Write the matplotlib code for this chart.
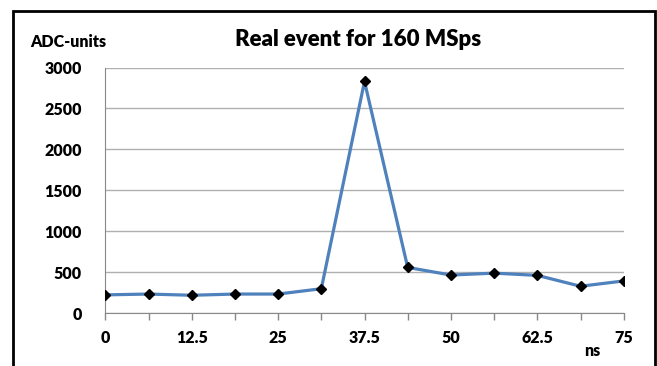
import matplotlib
matplotlib.use("Agg")
from matplotlib import pyplot as plt
from matplotlib.patches import Rectangle

plt.rcParams['font.family'] = ['Lato', 'DejaVu Sans']

# sample times (ns) and ADC values
times = [0, 6.25, 12.5, 18.75, 25, 31.25, 37.5, 43.75, 50, 56.25, 62.5, 68.75, 75]
adc = [225, 235, 220, 235, 235, 300, 2830, 560, 467, 490, 463, 330, 395]
xtick_vals = [0, 12.5, 25, 37.5, 50, 62.5, 75]
xtick_labels = ['0', '12.5', '25', '37.5', '50', '62.5', '75']
ytick_vals = [0, 500, 1000, 1500, 2000, 2500, 3000]

W, H = 657, 366
WT = 'heavy'
fig = plt.figure(figsize=(W / 100, H / 100), dpi=100)
ax = fig.add_axes([105.3 / W, 1 - 313.3 / H, (623.7 - 105.3) / W, (313.3 - 67.5) / H])

ax.plot(times, adc, color='#4F81BD', linewidth=2.3, zorder=3)
ax.plot(times, adc, linestyle='none', marker='D', markersize=5.5, color='black', zorder=4)

ax.set_xlim(0, 75)
ax.set_ylim(0, 3000)
ax.set_yticks(ytick_vals)
ax.set_yticklabels([str(v) for v in ytick_vals], fontsize=11.5, fontweight=WT)
ax.set_xticks(times)
ax.set_xticklabels([xtick_labels[xtick_vals.index(t)] if t in xtick_vals else '' for t in times],
                   fontsize=11.5, fontweight=WT)
ax.tick_params(axis='x', length=5, color='#888888', width=1, pad=7)
ax.tick_params(axis='y', length=0, pad=17)

ax.grid(axis='y', color='#b0b0b0', linewidth=1)
ax.set_axisbelow(True)
for s in ['top', 'right']:
    ax.spines[s].set_visible(False)
ax.spines['left'].set_color('#888888')
ax.spines['bottom'].set_color('#888888')

fig.text(358 / W, 1 - 40 / H, 'Real event for 160 MSps', ha='center', va='center',
         fontsize=16, fontweight=WT)
fig.text(30 / W, 1 - 42 / H, 'ADC-units', ha='left', va='center', fontsize=11.5, fontweight=WT)
fig.text(592 / W, 1 - 351 / H, 'ns', ha='center', va='center', fontsize=11.5, fontweight=WT)

# outer chart frame
fig.patches.append(Rectangle((12.5 / W, -0.05), (654.5 - 12.5) / W, 1.05 - 10.5 / H,
                             transform=fig.transFigure, fill=False, edgecolor='black',
                             linewidth=2, zorder=10))

fig.savefig('out.png', dpi=100)
